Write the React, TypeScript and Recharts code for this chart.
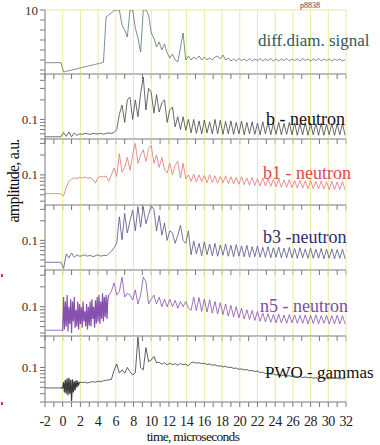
import React from 'react';
import { LineChart, Line, XAxis, YAxis, CartesianGrid } from 'recharts';

// time grid, microseconds
const TIME = [
  -2, -1.7, -1.4, -1.1, -0.8, -0.5, -0.2, 0.1, 0.4, 0.7,
  1, 1.3, 1.6, 1.9, 2.2, 2.5, 2.8, 3.1, 3.4, 3.7,
  4, 4.3, 4.6, 4.9, 5.2, 5.5, 5.8, 6.1, 6.4, 6.7,
  7, 7.3, 7.6, 7.9, 8.2, 8.5, 8.8, 9.1, 9.4, 9.7,
  10, 10.3, 10.6, 10.9, 11.2, 11.5, 11.8, 12.1, 12.4, 12.7,
  13, 13.3, 13.6, 13.9, 14.2, 14.5, 14.8, 15.1, 15.4, 15.7,
  16, 16.3, 16.6, 16.9, 17.2, 17.5, 17.8, 18.1, 18.4, 18.7,
  19, 19.3, 19.6, 19.9, 20.2, 20.5, 20.8, 21.1, 21.4, 21.7,
  22, 22.3, 22.6, 22.9, 23.2, 23.5, 23.8, 24.1, 24.4, 24.7,
  25, 25.3, 25.6, 25.9, 26.2, 26.5, 26.8, 27.1, 27.4, 27.7,
  28, 28.3, 28.6, 28.9, 29.2, 29.5, 29.8, 30.1, 30.4, 30.7,
  31, 31.3, 31.6, 31.9,
];

const DIFF_SIGNAL = [
  4.73, 4.73, 4.73, 4.73, 4.73, 4.73, 4.73, 3.8, 3.87, 3.93,
  4.0, 4.06, 4.12, 4.19, 4.25, 4.32, 4.38, 4.44, 4.5, 4.57,
  4.63, 4.7, 4.76, 9.3, 9.5, 9.7, 9.95, 10, 10, 8.5,
  8.0, 7.3, 10, 10, 8.2, 7.2, 5.8, 10, 10, 9.5,
  7.7, 7.2, 6.3, 6.8, 6.0, 6.6, 5.7, 5.2, 5.6, 5.0,
  4.8, 6.2, 7.7, 5.0, 5.4, 5.0, 5.3, 5.1, 5.4, 5.0,
  5.3, 5.0, 5.2, 5.0, 5.3, 5.4, 5.1, 5.5, 5.0, 5.2,
  4.9, 5.1, 4.9, 5.15, 4.95, 5.1, 4.9, 5.15, 4.9, 5.1,
  4.95, 5.15, 4.9, 5.1, 4.95, 5.15, 4.9, 5.1, 4.9, 5.1,
  4.95, 5.15, 4.9, 5.1, 4.95, 5.1, 4.9, 5.15, 4.95, 5.1,
  4.9, 5.1, 4.95, 5.15, 4.9, 5.1, 4.95, 5.1, 4.9, 5.1,
  4.95, 5.1, 4.9, 5.05,
];

const B_NEUTRON = [
  0.054, 0.054, 0.054, 0.054, 0.054, 0.054, 0.054, 0.063, 0.055, 0.064,
  0.054, 0.062, 0.057, 0.06, 0.059, 0.061, 0.06, 0.059, 0.061, 0.06,
  0.06, 0.061, 0.059, 0.061, 0.062, 0.061, 0.063, 0.07, 0.12, 0.166,
  0.09, 0.2, 0.22, 0.1, 0.2, 0.11, 0.25, 0.45, 0.14, 0.3,
  0.26, 0.125, 0.24, 0.13, 0.18, 0.2, 0.09, 0.14, 0.155, 0.077,
  0.11, 0.07, 0.11, 0.068, 0.1, 0.062, 0.1, 0.061, 0.095, 0.06,
  0.098, 0.062, 0.092, 0.06, 0.1, 0.06, 0.097, 0.059, 0.093, 0.06,
  0.095, 0.059, 0.09, 0.06, 0.094, 0.058, 0.09, 0.06, 0.092, 0.059,
  0.088, 0.058, 0.092, 0.06, 0.09, 0.058, 0.088, 0.059, 0.09, 0.058,
  0.087, 0.059, 0.09, 0.058, 0.088, 0.057, 0.086, 0.058, 0.09, 0.057,
  0.087, 0.058, 0.086, 0.057, 0.088, 0.057, 0.085, 0.058, 0.087, 0.057,
  0.085, 0.058, 0.086, 0.057,
];

const B1_NEUTRON = [
  0.052, 0.052, 0.052, 0.052, 0.052, 0.052, 0.052, 0.048, 0.065, 0.08,
  0.086, 0.09, 0.088, 0.092, 0.09, 0.093, 0.089, 0.092, 0.085, 0.075,
  0.092, 0.095, 0.093, 0.096, 0.08, 0.1, 0.127, 0.095, 0.21, 0.11,
  0.13, 0.185, 0.118, 0.2, 0.3, 0.15, 0.2, 0.24, 0.16, 0.25,
  0.28, 0.15, 0.2, 0.13, 0.185, 0.12, 0.107, 0.15, 0.1, 0.14,
  0.16, 0.09, 0.15, 0.088, 0.1, 0.08, 0.102, 0.078, 0.1, 0.079,
  0.098, 0.076, 0.1, 0.077, 0.097, 0.075, 0.095, 0.076, 0.097, 0.074,
  0.094, 0.073, 0.092, 0.072, 0.094, 0.071, 0.09, 0.07, 0.092, 0.069,
  0.088, 0.068, 0.09, 0.068, 0.087, 0.067, 0.085, 0.066, 0.087, 0.065,
  0.084, 0.065, 0.085, 0.064, 0.082, 0.063, 0.083, 0.063, 0.081, 0.062,
  0.082, 0.062, 0.08, 0.061, 0.081, 0.061, 0.079, 0.06, 0.08, 0.06,
  0.078, 0.06, 0.079, 0.06,
];

const B3_NEUTRON = [
  0.046, 0.046, 0.046, 0.046, 0.046, 0.046, 0.046, 0.037, 0.062, 0.054,
  0.064, 0.055, 0.06, 0.057, 0.058, 0.06, 0.057, 0.059, 0.056, 0.058,
  0.06, 0.057, 0.059, 0.058, 0.062, 0.068, 0.077, 0.09, 0.23, 0.102,
  0.26, 0.13, 0.2, 0.29, 0.14, 0.33, 0.16, 0.33, 0.18, 0.25,
  0.34, 0.3, 0.14, 0.24, 0.12, 0.185, 0.1, 0.14, 0.13, 0.09,
  0.12, 0.17, 0.1, 0.09, 0.14, 0.06, 0.098, 0.062, 0.09, 0.058,
  0.095, 0.06, 0.088, 0.058, 0.09, 0.057, 0.085, 0.059, 0.088, 0.057,
  0.084, 0.056, 0.086, 0.057, 0.082, 0.056, 0.084, 0.055, 0.08, 0.056,
  0.082, 0.055, 0.078, 0.055, 0.08, 0.054, 0.077, 0.055, 0.079, 0.054,
  0.076, 0.054, 0.078, 0.054, 0.075, 0.053, 0.077, 0.054, 0.074, 0.053,
  0.076, 0.053, 0.073, 0.053, 0.075, 0.052, 0.073, 0.053, 0.074, 0.052,
  0.072, 0.053, 0.073, 0.052,
];

// n5: the fast noise at 0..5 us is sampled on its own finer grid
const N5_NEUTRON = [
  0.044, 0.044, 0.044, 0.044, 0.044, 0.044, 0.044, null, null, null,
  null, null, null, null, null, null, null, null, null, null,
  null, null, null, null, 0.15, 0.17, 0.23, 0.15, 0.17, 0.28,
  0.14, 0.16, 0.15, 0.126, 0.18, 0.11, 0.15, 0.28, 0.24, 0.11,
  0.13, 0.15, 0.11, 0.14, 0.1, 0.13, 0.1, 0.13, 0.1, 0.125,
  0.095, 0.12, 0.1, 0.12, 0.095, 0.088, 0.14, 0.087, 0.138, 0.085,
  0.13, 0.083, 0.127, 0.08, 0.12, 0.078, 0.115, 0.076, 0.11, 0.072,
  0.105, 0.07, 0.1, 0.068, 0.095, 0.065, 0.09, 0.064, 0.088, 0.062,
  0.085, 0.06, 0.08, 0.059, 0.078, 0.058, 0.076, 0.057, 0.077, 0.057,
  0.075, 0.056, 0.076, 0.057, 0.075, 0.056, 0.074, 0.056, 0.075, 0.055,
  0.074, 0.056, 0.075, 0.055, 0.073, 0.056, 0.074, 0.055, 0.073, 0.055,
  0.074, 0.055, 0.073, 0.055,
];

const N5_FAST_TIME = [
  -0.2, -0.1, 0, 0.1, 0.2, 0.3, 0.4, 0.5, 0.6, 0.7, 0.8, 0.9, 1,
  1.1, 1.2, 1.3, 1.4, 1.5, 1.6, 1.7, 1.8, 1.9, 2,
  2.1, 2.2, 2.3, 2.4, 2.5, 2.6, 2.7, 2.8, 2.9, 3,
  3.1, 3.2, 3.3, 3.4, 3.5, 3.6, 3.7, 3.8, 3.9, 4,
  4.1, 4.2, 4.3, 4.4, 4.5, 4.6, 4.7, 4.8, 4.9, 5,
  5.1, 5.2,
];

const N5_FAST = [
  0.044, 0.044, 0.044,
  0.14, 0.045, 0.12, 0.05, 0.15, 0.042, 0.1, 0.055, 0.13, 0.04,
  0.12, 0.06, 0.14, 0.048, 0.09, 0.05, 0.12, 0.045, 0.11, 0.055,
  0.1, 0.048, 0.12, 0.06, 0.085, 0.05, 0.11, 0.045, 0.1, 0.052,
  0.12, 0.05, 0.13, 0.065, 0.1, 0.048, 0.125, 0.055, 0.14, 0.06,
  0.15, 0.055, 0.12, 0.065, 0.16, 0.06, 0.14, 0.07, 0.15, 0.065,
  0.13, 0.15,
];

const PWO_GAMMAS = [
  0.049, 0.049, 0.049, 0.049, 0.049, 0.049, 0.049, null, null, null,
  null, null, null, 0.06, 0.059, 0.06, 0.058, 0.06, 0.061, 0.06,
  0.062, 0.061, 0.063, 0.064, 0.065, 0.066, 0.09, 0.113, 0.082, 0.092,
  0.082, 0.1, 0.086, 0.077, 0.083, 0.29, 0.1, 0.092, 0.2, 0.122,
  0.13, 0.147, 0.118, 0.12, 0.112, 0.118, 0.11, 0.116, 0.11, 0.114,
  0.108, 0.115, 0.11, 0.112, 0.106, 0.118, 0.121, 0.116, 0.118, 0.114,
  0.116, 0.111, 0.113, 0.108, 0.11, 0.105, 0.106, 0.102, 0.104, 0.1,
  0.101, 0.097, 0.098, 0.094, 0.095, 0.092, 0.093, 0.089, 0.09, 0.087,
  0.088, 0.084, 0.085, 0.081, 0.082, 0.079, 0.08, 0.077, 0.078, 0.075,
  0.077, 0.074, 0.075, 0.073, 0.074, 0.072, 0.073, 0.07, 0.072, 0.07,
  0.071, 0.069, 0.07, 0.068, 0.07, 0.068, 0.069, 0.067, 0.069, 0.068,
  0.069, 0.067, 0.068, 0.067,
];

const PWO_FAST_TIME = [
  -0.2, -0.1, 0, 0.1, 0.2, 0.3, 0.4, 0.5, 0.6, 0.7, 0.8,
  0.9, 1, 1.1, 1.2, 1.3, 1.4, 1.5, 1.6, 1.7, 1.8, 1.9,
];

const PWO_FAST = [
  0.049, 0.049, 0.049, 0.06, 0.042, 0.065, 0.04, 0.068, 0.038, 0.07, 0.04,
  0.065, 0.031, 0.066, 0.042, 0.062, 0.045, 0.064, 0.05, 0.06, 0.055, 0.06,
];

const X_TICKS = [
  -2, -1, 0, 1, 2, 3, 4, 5, 6, 7, 8, 9, 10, 11, 12, 13, 14, 15, 16, 17,
  18, 19, 20, 21, 22, 23, 24, 25, 26, 27, 28, 29, 30, 31, 32,
];
const GRID_X = [0, 2, 4, 6, 8, 10, 12, 14, 16, 18, 20, 22, 24, 26, 28, 30, 32];

const DIFF_TICKS = [4, 5, 6, 7, 8, 9, 10];
const B_TICKS = [0.05, 0.06, 0.07, 0.08, 0.09, 0.1, 0.2, 0.3, 0.4, 0.5];
const MID_TICKS = [0.04, 0.05, 0.06, 0.07, 0.08, 0.09, 0.1, 0.2, 0.3];
const PWO_TICKS = [0.03, 0.04, 0.05, 0.06, 0.07, 0.08, 0.09, 0.1, 0.2, 0.3];

const FONT = '"Liberation Serif", "DejaVu Serif", serif';
const AXIS = '#7a7a7a';
const GRID = '#ecea9c';

function XTick({ x, y, payload, last }) {
  if (!last || payload.value % 2 !== 0) return <g />;
  return (
    <text
      x={x}
      y={y}
      dy={6}
      textAnchor="middle"
      fontFamily={FONT}
      fontSize={14}
      letterSpacing={-0.4}
      fill="#222"
    >
      {payload.value}
    </text>
  );
}

function YTick({ x, y, payload }) {
  const v = payload.value;
  const txt = v === 0.1 ? '0.1' : v === 10 ? '10' : '';
  if (!txt) return <g />;
  return (
    <text x={x} y={y} dy={4.5} textAnchor="end" fontFamily={FONT} fontSize={13} fill="#333">
      {txt}
    </text>
  );
}

function Panel({ top, bottom, values, fastTime, fastValues, color, domain, ticks, log, last }) {
  const mt = 10;
  const xh = last ? 34 : 8;
  const rows = TIME.map((t, i) => ({ t, v: values[i] }));
  const fast = fastTime ? fastTime.map((t, i) => ({ t, v: fastValues[i] })) : null;

  return (
    <div style={{ position: 'absolute', left: 0, top: top - mt }}>
      <LineChart
        width={380}
        height={bottom - top + mt + xh}
        data={rows}
        margin={{ top: mt, right: 34, bottom: 0, left: 0 }}
      >
        <CartesianGrid
          stroke={GRID}
          horizontal={!log}
          horizontalValues={[domain[1]]}
          verticalValues={GRID_X}
        />
        <XAxis
          type="number"
          dataKey="t"
          domain={[-2, 32]}
          ticks={X_TICKS}
          interval={0}
          allowDataOverflow
          height={xh}
          tickSize={5}
          tickMargin={13}
          stroke={AXIS}
          tick={(p) => <XTick {...p} last={last} />}
        />
        <YAxis
          type="number"
          scale={log ? 'log' : 'linear'}
          domain={domain}
          ticks={ticks}
          interval={0}
          allowDataOverflow
          width={45}
          tickSize={5}
          tickMargin={2}
          stroke={AXIS}
          tick={(p) => <YTick {...p} />}
        />
        <Line
          type="linear"
          dataKey="v"
          stroke={color}
          strokeWidth={0.8}
          dot={false}
          isAnimationActive={false}
        />
        {fast && (
          <Line
            type="linear"
            data={fast}
            dataKey="v"
            stroke={color}
            strokeWidth={1.2}
            dot={false}
            isAnimationActive={false}
          />
        )}
      </LineChart>
    </div>
  );
}

export default function App() {
  const label = { fontFamily: FONT, fontSize: 18 };
  return (
    <div
      style={{
        position: 'absolute',
        left: 0,
        top: 0,
        width: 380,
        height: 445,
        background: '#fff',
        overflow: 'hidden',
      }}
    >
      <Panel top={10} bottom={74} values={DIFF_SIGNAL} color="#557575" domain={[3.6, 10]} ticks={DIFF_TICKS} />
      <Panel top={74} bottom={139} values={B_NEUTRON} color="#444" domain={[0.05, 0.5]} ticks={B_TICKS} log />
      <Panel top={139} bottom={205} values={B1_NEUTRON} color="#e37474" domain={[0.035, 0.35]} ticks={MID_TICKS} log />
      <Panel top={205} bottom={270} values={B3_NEUTRON} color="#535388" domain={[0.035, 0.35]} ticks={MID_TICKS} log />
      <Panel
        top={270}
        bottom={336}
        values={N5_NEUTRON}
        fastTime={N5_FAST_TIME}
        fastValues={N5_FAST}
        color="#8650ad"
        domain={[0.036, 0.36]}
        ticks={MID_TICKS}
        log
      />
      <Panel
        top={336}
        bottom={402}
        values={PWO_GAMMAS}
        fastTime={PWO_FAST_TIME}
        fastValues={PWO_FAST}
        color="#3a3a3a"
        domain={[0.03, 0.3]}
        ticks={PWO_TICKS}
        log
        last
      />
      <svg width={380} height={445} style={{ position: 'absolute', left: 0, top: 0, pointerEvents: 'none' }}>
        <text x={300} y={8} fontFamily={FONT} fontSize={8} fill="#444">p8838</text>
        <text x={258} y={46} {...label} fontSize={17} fill="#2f5a5a">diff.diam. signal</text>
        <text x={266} y={125} {...label} fill="#111">b - neutron</text>
        <text x={263} y={179} {...label} fill="#d94a4a">b1 - neutron</text>
        <text x={263} y={243} {...label} fill="#2d2d6e">b3 -neutron</text>
        <text x={260} y={312} {...label} fill="#7b4da3">n5 - neutron</text>
        <text x={265} y={378} {...label} fontSize={17} fill="#111">PWO - gammas</text>
        <text
          x={0}
          y={0}
          transform="translate(19 181) rotate(-90)"
          textAnchor="middle"
          fontFamily={FONT}
          fontSize={16}
          letterSpacing={-0.8}
          fill="#111"
        >
          amplitude, a.u.
        </text>
        <text x={193} y={441} textAnchor="middle" fontFamily={FONT} fontSize={13.5} letterSpacing={-0.7} fill="#111">
          time, microseconds
        </text>
        <rect x={1} y={274} width={2} height={3} fill="#e0207a" />
        <rect x={1} y={402} width={2} height={3} fill="#e0207a" />
      </svg>
    </div>
  );
}
